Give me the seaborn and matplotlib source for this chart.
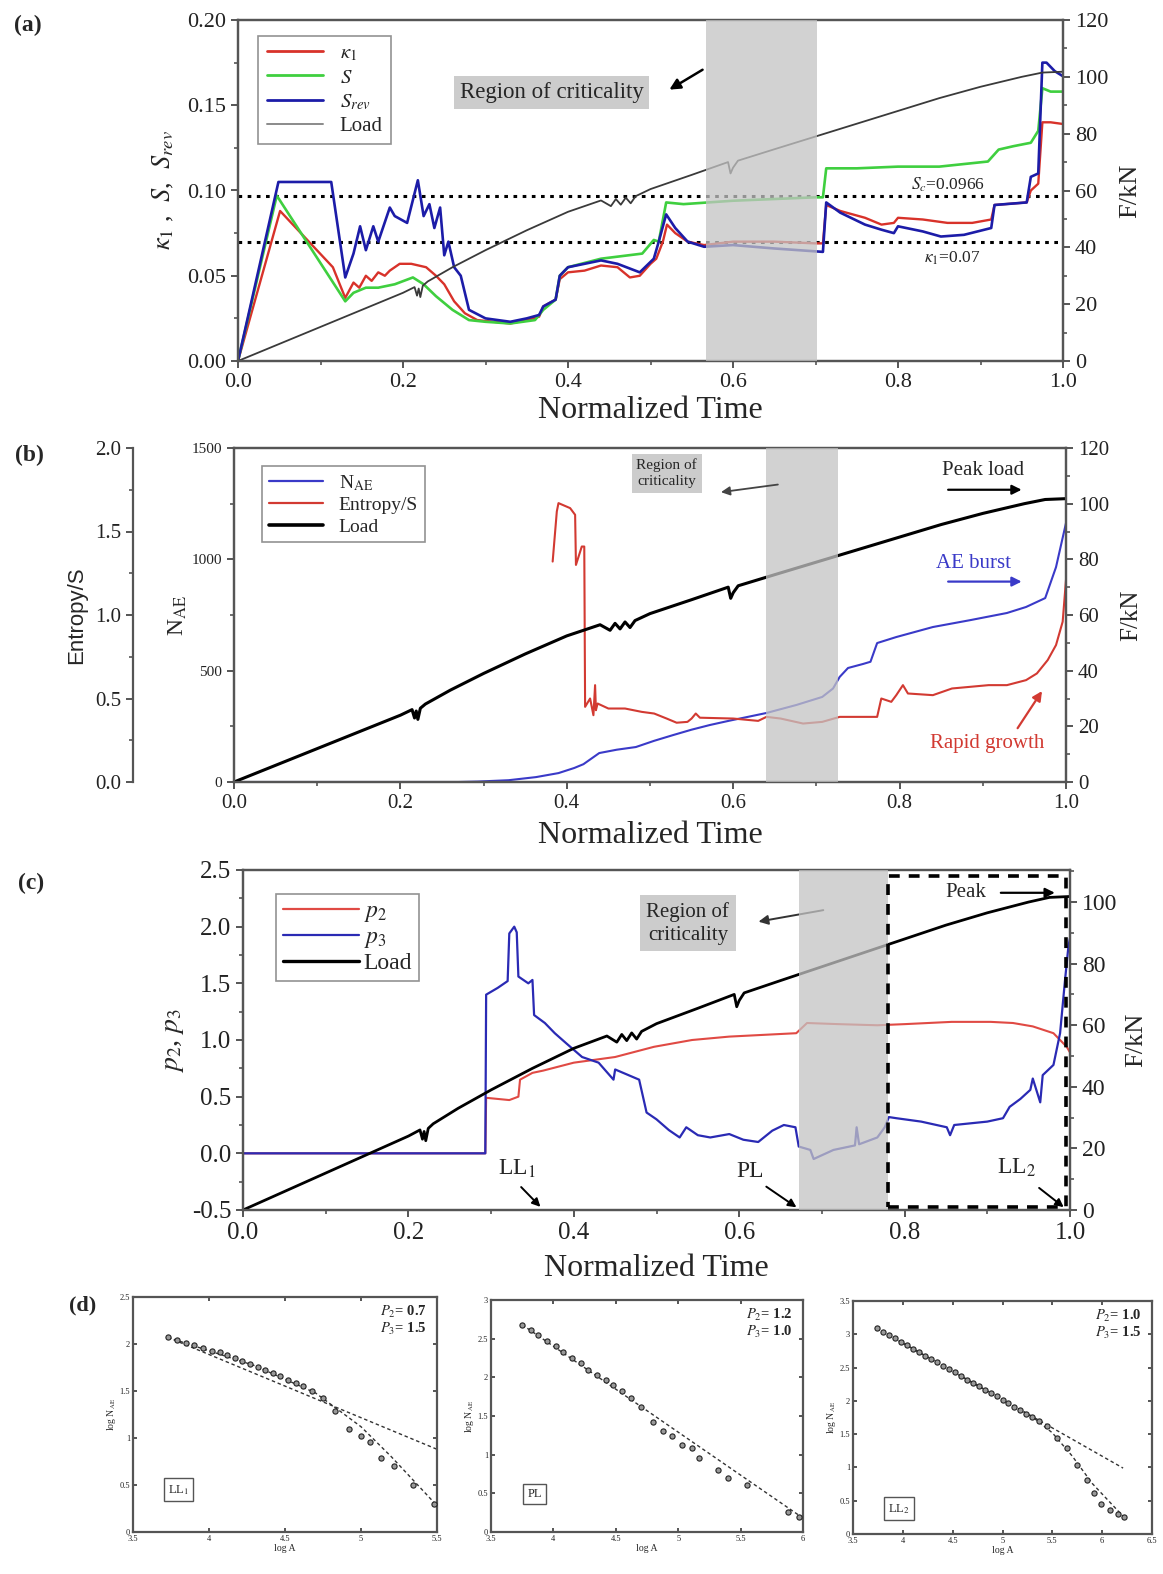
import matplotlib
matplotlib.use("Agg")
import matplotlib.pyplot as plt
import seaborn as sns
from matplotlib.lines import Line2D
from matplotlib.patches import Rectangle
from matplotlib.ticker import MultipleLocator, FormatStrFormatter, FuncFormatter

# ---------------- data ----------------
# load curve, shared by panels a-c (F in kN)
load_t = [0, 0.05, 0.10, 0.15, 0.20, 0.214, 0.217, 0.219, 0.221, 0.224, 0.23, 0.26, 0.30, 0.35,
          0.40, 0.44, 0.452, 0.458, 0.464, 0.47, 0.476, 0.482, 0.50, 0.55, 0.594, 0.597, 0.600,
          0.606, 0.65, 0.70, 0.75, 0.80, 0.85, 0.90, 0.95, 0.975, 1.0]
load_f = [0, 6, 12, 18, 24, 26, 23, 25.5, 22.5, 26.5, 28, 33, 39, 46,
          52.5, 56.5, 54.5, 57, 55, 57.5, 55.5, 58, 60.5, 65.5, 70, 66, 68,
          70.5, 74.5, 79, 83.5, 88, 92.5, 96.5, 100, 101.5, 101.8]

# panel (a)
k1_t = [0, 0.051, 0.115, 0.13, 0.14, 0.147, 0.155, 0.162, 0.17, 0.178, 0.184, 0.196, 0.21, 0.228,
        0.24, 0.25, 0.262, 0.275, 0.29, 0.31, 0.33, 0.35, 0.365, 0.37, 0.385, 0.39, 0.40, 0.42,
        0.44, 0.46, 0.475, 0.487, 0.50, 0.507, 0.515, 0.52, 0.53, 0.545, 0.565, 0.60, 0.65, 0.70,
        0.709, 0.713, 0.73, 0.76, 0.78, 0.795, 0.80, 0.83, 0.86, 0.89, 0.913, 0.917, 0.956, 0.961,
        0.97, 0.975, 0.985, 1.0]
k1_v = [0, 0.088, 0.055, 0.037, 0.046, 0.043, 0.05, 0.047, 0.052, 0.05, 0.053, 0.057, 0.057, 0.055,
        0.05, 0.045, 0.035, 0.028, 0.024, 0.023, 0.022, 0.024, 0.026, 0.032, 0.036, 0.048, 0.052, 0.053,
        0.056, 0.055, 0.049, 0.05, 0.057, 0.06, 0.07, 0.08, 0.075, 0.07, 0.068, 0.07, 0.07, 0.069,
        0.069, 0.0915, 0.088, 0.084, 0.08, 0.081, 0.084, 0.083, 0.081, 0.081, 0.083, 0.0915, 0.093, 0.1,
        0.104, 0.14, 0.14, 0.139]
s_t = [0, 0.047, 0.13, 0.14, 0.155, 0.17, 0.19, 0.212, 0.225, 0.24, 0.26, 0.28, 0.30, 0.33, 0.36,
       0.37, 0.385, 0.39, 0.40, 0.44, 0.49, 0.504, 0.51, 0.519, 0.54, 0.60, 0.65, 0.70, 0.709, 0.713,
       0.75, 0.80, 0.85, 0.909, 0.922, 0.94, 0.961, 0.97, 0.975, 0.985, 1.0]
s_v = [0, 0.097, 0.035, 0.04, 0.043, 0.043, 0.045, 0.049, 0.045, 0.038, 0.03, 0.024, 0.023, 0.022, 0.024,
       0.03, 0.036, 0.05, 0.055, 0.06, 0.063, 0.071, 0.07, 0.093, 0.092, 0.094, 0.095, 0.096, 0.096, 0.113,
       0.113, 0.114, 0.114, 0.117, 0.124, 0.126, 0.128, 0.135, 0.16, 0.158, 0.158]
srev_t = [0, 0.049, 0.113, 0.13, 0.14, 0.148, 0.155, 0.164, 0.17, 0.184, 0.19, 0.205, 0.218, 0.225,
          0.232, 0.238, 0.245, 0.25, 0.255, 0.262, 0.27, 0.28, 0.30, 0.33, 0.35, 0.365, 0.37, 0.385,
          0.39, 0.40, 0.44, 0.46, 0.487, 0.504, 0.51, 0.519, 0.53, 0.545, 0.565, 0.60, 0.65, 0.709,
          0.713, 0.73, 0.76, 0.78, 0.795, 0.80, 0.83, 0.852, 0.88, 0.913, 0.917, 0.956, 0.961, 0.97,
          0.975, 0.98, 0.99, 1.0]
srev_v = [0, 0.105, 0.105, 0.049, 0.063, 0.079, 0.065, 0.079, 0.07, 0.09, 0.085, 0.081, 0.106, 0.085,
          0.092, 0.078, 0.09, 0.062, 0.07, 0.055, 0.05, 0.03, 0.025, 0.023, 0.025, 0.027, 0.032, 0.036,
          0.05, 0.055, 0.059, 0.057, 0.052, 0.06, 0.07, 0.086, 0.078, 0.07, 0.067, 0.068, 0.066, 0.064,
          0.093, 0.087, 0.08, 0.077, 0.075, 0.079, 0.076, 0.073, 0.074, 0.078, 0.0915, 0.093, 0.108, 0.11,
          0.175, 0.175, 0.17, 0.167]
sc_value = 0.0966
k1_value = 0.07
band_a = (0.567, 0.702)

# panel (b)
nae_t = [0, 0.27, 0.293, 0.33, 0.363, 0.39, 0.409, 0.42, 0.439, 0.46, 0.483, 0.505, 0.528, 0.55,
         0.572, 0.595, 0.617, 0.64, 0.676, 0.707, 0.72, 0.728, 0.738, 0.756, 0.765, 0.773, 0.796,
         0.84, 0.885, 0.929, 0.952, 0.975, 0.988, 1.0]
nae_v = [0, 0, 2, 8, 22, 40, 63, 80, 130, 145, 157, 185, 211, 235,
         256, 275, 292, 310, 346, 382, 420, 472, 512, 530, 540, 624, 651,
         696, 727, 759, 786, 826, 965, 1163]
ent_t = [0.383, 0.388, 0.39, 0.404, 0.41, 0.411, 0.418, 0.421, 0.422, 0.428, 0.432, 0.434, 0.435,
         0.437, 0.45, 0.47, 0.49, 0.505, 0.52, 0.532, 0.545, 0.55, 0.555, 0.56, 0.6, 0.63, 0.64,
         0.657, 0.684, 0.707, 0.728, 0.773, 0.778, 0.79, 0.796, 0.804, 0.81, 0.84, 0.863, 0.907,
         0.929, 0.952, 0.965, 0.978, 0.988, 0.996, 1.0]
ent_v = [1.32, 1.62, 1.67, 1.64, 1.60, 1.30, 1.41, 1.41, 0.45, 0.50, 0.40, 0.58, 0.43,
         0.47, 0.44, 0.44, 0.42, 0.41, 0.38, 0.355, 0.36, 0.38, 0.41, 0.385, 0.38, 0.366, 0.39,
         0.38, 0.35, 0.36, 0.39, 0.39, 0.50, 0.48, 0.52, 0.58, 0.53, 0.52, 0.56, 0.58,
         0.58, 0.61, 0.65, 0.73, 0.82, 0.96, 1.21]
band_b = (0.64, 0.726)

# panel (c)
p3_t = [0, 0.293, 0.294, 0.308, 0.32, 0.322, 0.328, 0.331, 0.333, 0.345, 0.35, 0.352, 0.365, 0.377,
        0.391, 0.41, 0.43, 0.448, 0.45, 0.479, 0.488, 0.50, 0.515, 0.528, 0.536, 0.55, 0.565, 0.588,
        0.605, 0.623, 0.64, 0.654, 0.668, 0.672, 0.686, 0.69, 0.714, 0.74, 0.742, 0.745, 0.767,
        0.776, 0.781, 0.79, 0.82, 0.851, 0.855, 0.86, 0.90, 0.919, 0.927, 0.94, 0.952, 0.955, 0.964,
        0.967, 0.98, 0.988, 0.994, 0.998, 1.0]
p3_v = [0, 0, 1.40, 1.46, 1.52, 1.94, 2.0, 1.95, 1.56, 1.50, 1.53, 1.22, 1.15, 1.06,
        0.97, 0.85, 0.80, 0.65, 0.74, 0.65, 0.36, 0.30, 0.205, 0.14, 0.23, 0.16, 0.14, 0.17,
        0.12, 0.10, 0.20, 0.25, 0.23, 0.06, 0.03, -0.05, 0.03, 0.07, 0.23, 0.08, 0.14,
        0.23, 0.32, 0.31, 0.28, 0.23, 0.16, 0.25, 0.28, 0.31, 0.41, 0.48, 0.56, 0.66, 0.45,
        0.69, 0.78, 1.06, 1.53, 1.82, 1.9]
p2_t = [0, 0.293, 0.294, 0.322, 0.333, 0.335, 0.35, 0.363, 0.40, 0.45, 0.497, 0.543, 0.588, 0.669,
        0.682, 0.72, 0.767, 0.80, 0.857, 0.904, 0.931, 0.955, 0.98, 0.996, 1.0]
p2_v = [0, 0, 0.49, 0.47, 0.50, 0.65, 0.71, 0.73, 0.80, 0.85, 0.94, 1.0, 1.03, 1.06,
        1.15, 1.14, 1.13, 1.14, 1.16, 1.16, 1.15, 1.12, 1.06, 0.94, 0.89]
band_c = (0.672, 0.78)

# panel (d): log A vs log N_AE
d1_x = [3.73, 3.79, 3.85, 3.90, 3.96, 4.02, 4.07, 4.12, 4.17, 4.22, 4.27, 4.32, 4.37, 4.42,
        4.47, 4.52, 4.57, 4.62, 4.68, 4.75, 4.83, 4.92, 5.00, 5.06, 5.13, 5.22, 5.34, 5.48]
d1_y = [2.07, 2.04, 2.01, 1.99, 1.96, 1.93, 1.91, 1.88, 1.85, 1.82, 1.79, 1.76, 1.72, 1.69,
        1.66, 1.62, 1.59, 1.55, 1.50, 1.43, 1.29, 1.10, 1.02, 0.96, 0.79, 0.70, 0.50, 0.30]
d1_fit1_x = [3.73, 5.5]
d1_fit1_y = [2.07, 0.88]
d1_fit2_x = [3.73, 4.3, 4.7, 5.0, 5.2, 5.5]
d1_fit2_y = [2.07, 1.77, 1.48, 1.12, 0.80, 0.28]

d2_x = [3.75, 3.82, 3.88, 3.95, 4.02, 4.08, 4.15, 4.22, 4.28, 4.35, 4.42, 4.48, 4.55, 4.62,
        4.70, 4.80, 4.88, 4.95, 5.03, 5.11, 5.17, 5.32, 5.40, 5.55, 5.88, 5.97]
d2_y = [2.68, 2.61, 2.55, 2.47, 2.40, 2.33, 2.25, 2.18, 2.10, 2.03, 1.96, 1.90, 1.82, 1.73,
        1.62, 1.42, 1.30, 1.24, 1.12, 1.08, 0.96, 0.80, 0.70, 0.61, 0.26, 0.20]
d2_fit_x = [3.75, 6.0]
d2_fit_y = [2.68, 0.18]

d3_x = [3.74, 3.80, 3.86, 3.92, 3.98, 4.04, 4.10, 4.16, 4.22, 4.28, 4.34, 4.40, 4.46, 4.52,
        4.58, 4.64, 4.70, 4.76, 4.82, 4.88, 4.94, 5.00, 5.06, 5.12, 5.18, 5.24, 5.30, 5.37,
        5.45, 5.55, 5.65, 5.75, 5.85, 5.92, 5.99, 6.08, 6.16, 6.22]
d3_y = [3.09, 3.04, 2.99, 2.94, 2.89, 2.84, 2.78, 2.73, 2.68, 2.63, 2.58, 2.53, 2.48, 2.43,
        2.37, 2.32, 2.27, 2.22, 2.17, 2.12, 2.07, 2.02, 1.97, 1.91, 1.86, 1.81, 1.76, 1.70,
        1.62, 1.44, 1.29, 1.04, 0.81, 0.62, 0.45, 0.36, 0.30, 0.25]
d3_fit1_x = [3.74, 6.21]
d3_fit1_y = [3.09, 0.99]
d3_fit2_x = [3.74, 5.3, 5.5, 5.7, 5.9, 6.22]
d3_fit2_y = [3.09, 1.76, 1.52, 1.17, 0.76, 0.25]

# ---------------- style ----------------
sns.set_theme(style="ticks")
plt.rcParams["font.family"] = ["Liberation Serif", "DejaVu Serif"]
plt.rcParams["mathtext.fontset"] = "stix"
plt.rcParams["axes.unicode_minus"] = False

W, H = 1163, 1574
fig = plt.figure(figsize=(W / 100, H / 100), dpi=100)


def rect(l, t, r, b):
    return [l / W, 1 - b / H, (r - l) / W, (b - t) / H]


SPINE = "#555555"


def style_axes(ax, size=15, direction="out"):
    for sp in ax.spines.values():
        sp.set_color(SPINE)
        sp.set_linewidth(1.6)
    ax.tick_params(which="major", direction=direction, length=5, width=1.4,
                   color=SPINE, labelsize=size, labelcolor="#222222")
    ax.tick_params(which="minor", direction=direction, length=3, width=1.2, color=SPINE)


def line(ax, x, y, color, lw=1.6, ls="-", z=2):
    sns.lineplot(x=x, y=y, ax=ax, color=color, linewidth=lw, linestyle=ls,
                 estimator=None, sort=False, legend=False, zorder=z)


# ======================= (a) =======================
RED_A, GREEN_A, BLUE_A = "#d8322a", "#3fcf3f", "#1c1ca8"
ax = fig.add_axes(rect(238, 20, 1063, 361))
axF = ax.twinx()
line(ax, k1_t, k1_v, RED_A, 1.7)
line(ax, s_t, s_v, GREEN_A, 1.9)
line(ax, srev_t, srev_v, BLUE_A, 1.9)
ax.axhline(sc_value, color="black", lw=2.2, ls=(0, (1.2, 1.8)), zorder=1)
ax.axhline(k1_value, color="black", lw=2.2, ls=(0, (1.2, 1.8)), zorder=1)
line(axF, load_t, load_f, "#3a3a3a", 1.3)
axF.axvspan(*band_a, color="#c4c4c4", alpha=0.75, lw=0, zorder=5)
ax.set_xlim(0, 1)
ax.set_ylim(0, 0.2)
axF.set_ylim(0, 120)
ax.xaxis.set_major_locator(MultipleLocator(0.2))
ax.xaxis.set_minor_locator(MultipleLocator(0.1))
ax.xaxis.set_major_formatter(FormatStrFormatter("%.1f"))
ax.yaxis.set_major_locator(MultipleLocator(0.05))
ax.yaxis.set_minor_locator(MultipleLocator(0.025))
ax.yaxis.set_major_formatter(FormatStrFormatter("%.2f"))
axF.yaxis.set_major_locator(MultipleLocator(20))
axF.yaxis.set_minor_locator(MultipleLocator(10))
style_axes(ax, 16)
style_axes(axF, 16)
ax.set_xlabel("Normalized Time", fontsize=23, labelpad=3)
ax.set_ylabel(r"$\kappa_1$ ,  $S$,  $S_{rev}$", fontsize=19, labelpad=8)
axF.set_ylabel("F/kN", fontsize=19, labelpad=8)
ax.text(0.86, sc_value + 0.007, r"$S_c$=0.0966", fontsize=12.5, ha="center", va="center", zorder=6)
ax.text(0.865, k1_value - 0.01, r"$\kappa_1$=0.07", fontsize=12.5, ha="center", va="center", zorder=6)
axF.text(0.38, 94.5, "Region of criticality", fontsize=16.5, ha="center", va="center", zorder=7,
         bbox=dict(boxstyle="square,pad=0.25", fc="#cccccc", ec="none"))
axF.annotate("", xy=(0.52, 95), xytext=(0.566, 103),
             arrowprops=dict(arrowstyle="-|>", color="black", lw=1.8, mutation_scale=16), zorder=7)
hand_a = [Line2D([], [], color=RED_A, lw=2), Line2D([], [], color=GREEN_A, lw=2),
          Line2D([], [], color=BLUE_A, lw=2), Line2D([], [], color="#8a8a8a", lw=1.4)]
leg = axF.legend(hand_a, [r"$\kappa_1$", r"$S$", r"$S_{rev}$", "Load"], loc="upper left",
                 bbox_to_anchor=(0.012, 0.985), fontsize=15, frameon=True, fancybox=False,
                 handlelength=2.7, borderpad=0.4, labelspacing=0.22)
leg.get_frame().set_edgecolor("#777777")
leg.get_frame().set_linewidth(1.2)
fig.text(28 / W, 1 - 25 / H, "(a)", fontsize=17, fontweight="bold", ha="center", va="center")

# ======================= (b) =======================
RED_B, BLUE_B = "#d23a32", "#3a3ac8"
ax = fig.add_axes(rect(234, 448, 1066, 782))
axE = ax.twinx()
axF = ax.twinx()
line(ax, nae_t, nae_v, BLUE_B, 1.5)
line(axE, ent_t, ent_v, RED_B, 1.5)
line(axF, load_t, load_f, "black", 2.2)
axF.axvspan(*band_b, color="#c4c4c4", alpha=0.75, lw=0, zorder=5)
ax.set_xlim(0, 1)
ax.set_ylim(0, 1500)
axE.set_ylim(0, 2.0)
axF.set_ylim(0, 120)
axE.spines["right"].set_visible(False)
axE.spines["top"].set_visible(False)
axE.spines["bottom"].set_visible(False)
axE.spines["left"].set_visible(True)
axE.spines["left"].set_position(("outward", (234 - 133) * 0.72))
axE.yaxis.set_label_position("left")
axE.yaxis.set_ticks_position("left")
ax.xaxis.set_major_locator(MultipleLocator(0.2))
ax.xaxis.set_minor_locator(MultipleLocator(0.1))
ax.xaxis.set_major_formatter(FormatStrFormatter("%.1f"))
ax.yaxis.set_major_locator(MultipleLocator(500))
ax.yaxis.set_minor_locator(MultipleLocator(250))
axE.yaxis.set_major_locator(MultipleLocator(0.5))
axE.yaxis.set_minor_locator(MultipleLocator(0.25))
axE.yaxis.set_major_formatter(FormatStrFormatter("%.1f"))
axF.yaxis.set_major_locator(MultipleLocator(20))
axF.yaxis.set_minor_locator(MultipleLocator(10))
style_axes(ax, 15)
ax.tick_params(axis="y", labelsize=11)
style_axes(axE, 15)
style_axes(axF, 15)
ax.set_xlabel("Normalized Time", fontsize=23, labelpad=6)
ax.set_ylabel(r"N$_{\mathrm{AE}}$", fontsize=17, labelpad=2)
axE.set_ylabel("Entropy/S", fontsize=16, labelpad=6, family=["Liberation Sans", "DejaVu Sans"])
axF.set_ylabel("F/kN", fontsize=18, labelpad=8)
axF.text(0.52, 111, "Region of\ncriticality", fontsize=11, ha="center", va="center", zorder=7,
         linespacing=1.3, bbox=dict(boxstyle="square,pad=0.3", fc="#cccccc", ec="none"))
axF.annotate("", xy=(0.582, 104), xytext=(0.657, 107),
             arrowprops=dict(arrowstyle="-|>", color="#444444", lw=1.3, mutation_scale=13), zorder=7)
axF.text(0.90, 112, "Peak load", fontsize=15, ha="center", va="center", zorder=7)
axF.annotate("", xy=(0.95, 105), xytext=(0.855, 105),
             arrowprops=dict(arrowstyle="-|>", color="black", lw=1.6, mutation_scale=14), zorder=7)
axF.text(0.889, 78.5, "AE burst", fontsize=15, ha="center", va="center", color=BLUE_B, zorder=7)
axF.annotate("", xy=(0.95, 72), xytext=(0.855, 72),
             arrowprops=dict(arrowstyle="-|>", color=BLUE_B, lw=1.6, mutation_scale=14), zorder=7)
axF.text(0.905, 14, "Rapid growth", fontsize=15, ha="center", va="center", color=RED_B, zorder=7)
axF.annotate("", xy=(0.973, 33.5), xytext=(0.94, 18.5),
             arrowprops=dict(arrowstyle="-|>", color=RED_B, lw=1.6, mutation_scale=14), zorder=7)
hand_b = [Line2D([], [], color=BLUE_B, lw=1.6), Line2D([], [], color=RED_B, lw=1.6),
          Line2D([], [], color="black", lw=2.6)]
leg = axF.legend(hand_b, [r"N$_{\mathrm{AE}}$", "Entropy/S", "Load"], loc="upper left",
                 bbox_to_anchor=(0.022, 0.975), fontsize=14, frameon=True, fancybox=False,
                 handlelength=2.8, borderpad=0.35, labelspacing=0.2)
leg.get_frame().set_edgecolor("#777777")
leg.get_frame().set_linewidth(1.2)
fig.text(29 / W, 1 - 455 / H, "(b)", fontsize=17, fontweight="bold", ha="center", va="center")

# ======================= (c) =======================
RED_C, BLUE_C = "#e04a44", "#2a2ab4"
ax = fig.add_axes(rect(243, 870, 1070, 1210))
axF = ax.twinx()
line(ax, p2_t, p2_v, RED_C, 1.5)
line(ax, p3_t, p3_v, BLUE_C, 1.6)
line(axF, load_t, load_f, "black", 2.0)
axF.axvspan(*band_c, color="#c4c4c4", alpha=0.75, lw=0, zorder=5)
ax.set_xlim(0, 1)
ax.set_ylim(-0.5, 2.5)
axF.set_ylim(0, 110.4)
ax.xaxis.set_major_locator(MultipleLocator(0.2))
ax.xaxis.set_minor_locator(MultipleLocator(0.1))
ax.xaxis.set_major_formatter(FormatStrFormatter("%.1f"))
ax.yaxis.set_major_locator(MultipleLocator(0.5))
ax.yaxis.set_minor_locator(MultipleLocator(0.25))
ax.yaxis.set_major_formatter(FormatStrFormatter("%.1f"))
axF.yaxis.set_major_locator(MultipleLocator(20))
axF.yaxis.set_minor_locator(MultipleLocator(10))
style_axes(ax, 18)
style_axes(axF, 17)
ax.set_xlabel("Normalized Time", fontsize=23, labelpad=7)
ax.set_ylabel(r"$p_2$, $p_3$", fontsize=20, labelpad=4)
axF.set_ylabel("F/kN", fontsize=19, labelpad=6)
axF.add_patch(Rectangle((0.78, 1.0), 0.215, 107.5, fill=False, ec="black", lw=2.6,
                        ls=(0, (3, 2.5)), zorder=8))
ax.text(0.538, 2.03, "Region of\ncriticality", fontsize=15, ha="center", va="center", zorder=7,
        linespacing=1.3, bbox=dict(boxstyle="square,pad=0.3", fc="#cccccc", ec="none"))
ax.annotate("", xy=(0.62, 2.04), xytext=(0.705, 2.15),
            arrowprops=dict(arrowstyle="-|>", color="#333333", lw=1.4, mutation_scale=14), zorder=7)
axF.text(0.874, 103, "Peak", fontsize=15, ha="center", va="center", zorder=9)
axF.annotate("", xy=(0.985, 103), xytext=(0.913, 103),
             arrowprops=dict(arrowstyle="-|>", color="black", lw=1.6, mutation_scale=14), zorder=9)
ax.text(0.331, -0.14, r"LL$_1$", fontsize=17, ha="center", va="center", zorder=9)
ax.annotate("", xy=(0.362, -0.49), xytext=(0.334, -0.28),
            arrowprops=dict(arrowstyle="-|>", color="black", lw=1.4, mutation_scale=12), zorder=9)
ax.text(0.613, -0.16, "PL", fontsize=17, ha="center", va="center", zorder=9)
ax.annotate("", xy=(0.672, -0.49), xytext=(0.63, -0.28),
            arrowprops=dict(arrowstyle="-|>", color="black", lw=1.4, mutation_scale=12), zorder=9)
ax.text(0.935, -0.13, r"LL$_2$", fontsize=17, ha="center", va="center", zorder=9)
ax.annotate("", xy=(0.995, -0.49), xytext=(0.96, -0.29),
            arrowprops=dict(arrowstyle="-|>", color="black", lw=1.4, mutation_scale=12), zorder=9)
hand_c = [Line2D([], [], color=RED_C, lw=1.6), Line2D([], [], color=BLUE_C, lw=1.6),
          Line2D([], [], color="black", lw=2.4)]
leg = axF.legend(hand_c, [r"$p_2$", r"$p_3$", "Load"], loc="upper left",
                 bbox_to_anchor=(0.026, 0.965), fontsize=17, frameon=True, fancybox=False,
                 handlelength=3.2, handletextpad=0.2, borderpad=0.3, labelspacing=0.1)
leg.get_frame().set_edgecolor("#777777")
leg.get_frame().set_linewidth(1.2)
fig.text(31 / W, 1 - 883 / H, "(c)", fontsize=17, fontweight="bold", ha="center", va="center")

# ======================= (d) =======================
fmt_g = FuncFormatter(lambda v, p: "%g" % v)
d_panels = [
    (rect(133, 1297, 437, 1532), (3.5, 5.5), (0, 2.5), d1_x, d1_y,
     [(d1_fit1_x, d1_fit1_y), (d1_fit2_x, d1_fit2_y)], ("0.7", "1.5"), r"LL$_1$", (3.8, 0.45)),
    (rect(491, 1300, 803, 1532), (3.5, 6.0), (0, 3.0), d2_x, d2_y,
     [(d2_fit_x, d2_fit_y)], ("1.2", "1.0"), "PL", (3.85, 0.49)),
    (rect(853, 1301, 1152, 1534), (3.5, 6.5), (0, 3.5), d3_x, d3_y,
     [(d3_fit1_x, d3_fit1_y), (d3_fit2_x, d3_fit2_y)], ("1.0", "1.5"), r"LL$_2$", (3.96, 0.38)),
]
for pos, xl, yl, px, py, fits, pvals, tag, tagxy in d_panels:
    axd = fig.add_axes(pos)
    for fx, fy in fits:
        line(axd, fx, fy, "#333333", 1.0, (0, (2.5, 2)))
    sns.scatterplot(x=px, y=py, ax=axd, s=14, marker="o", facecolor="#999999",
                    edgecolor="#222222", linewidth=0.8, zorder=3)
    axd.set_xlim(*xl)
    axd.set_ylim(*yl)
    axd.xaxis.set_major_locator(MultipleLocator(0.5))
    axd.yaxis.set_major_locator(MultipleLocator(0.5))
    axd.xaxis.set_major_formatter(fmt_g)
    axd.yaxis.set_major_formatter(fmt_g)
    style_axes(axd, 6, direction="in")
    axd.tick_params(top=True, right=True, length=3, pad=2)
    axd.set_xlabel("log A", fontsize=7, labelpad=1)
    axd.set_ylabel(r"log N$_{\mathrm{AE}}$", fontsize=7, labelpad=1)
    axd.text(0.965, 0.9, r"$P_2$= " + pvals[0] + "\n" + r"$P_3$= " + pvals[1],
             transform=axd.transAxes, fontsize=10.5, fontweight="bold", ha="right", va="center",
             linespacing=1.1)
    axd.text(tagxy[0], tagxy[1], tag, fontsize=9, ha="center", va="center",
             bbox=dict(boxstyle="square,pad=0.35", fc="white", ec="#555555", lw=1.0))
fig.text(83 / W, 1 - 1305 / H, "(d)", fontsize=16, fontweight="bold", ha="center", va="center")

fig.savefig("out.png", dpi=100, facecolor="white")
